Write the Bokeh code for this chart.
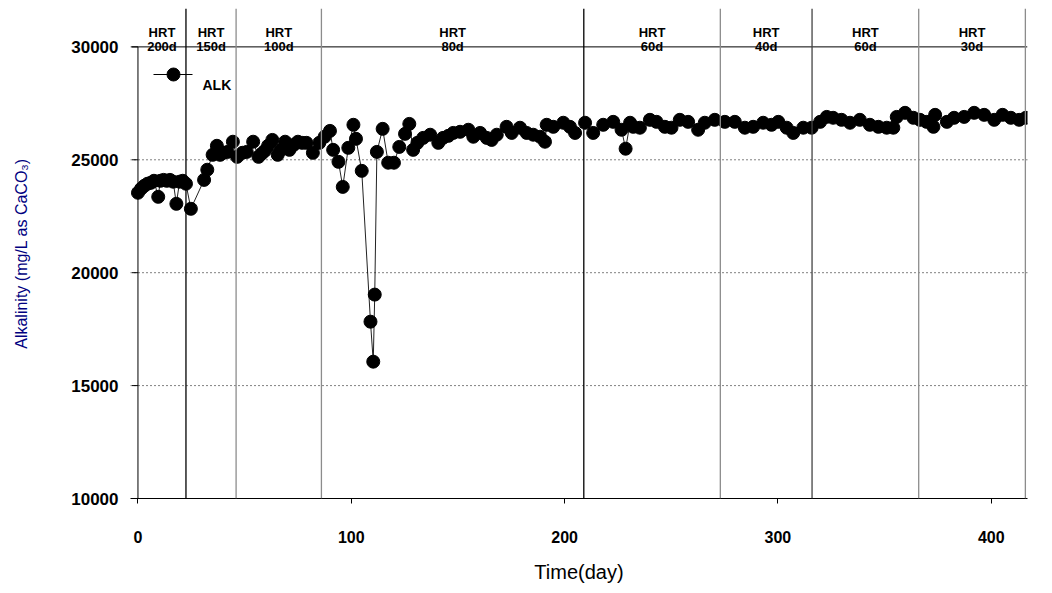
import math
from bokeh.plotting import figure
from bokeh.models import Range1d, FixedTicker, Span
from bokeh.core.properties import value
from bokeh.embed import file_html
from bokeh.resources import INLINE

# ---------------- data ----------------
day = [0, 1.5, 3, 4.5, 6, 7.5, 9.5, 10.5, 12, 13.5, 15, 16.5, 18, 19.5, 21, 22.5, 24.8,
       31, 32.5, 35, 37, 38.5, 40, 42, 44.5, 46.5, 49, 51, 54, 56.5, 58, 59.5, 61, 63,
       65.5, 67, 69, 71, 73, 75, 77, 79, 82, 85, 87.5, 90, 91.5, 94, 96, 98.6, 101,
       102.2, 104.9, 109, 110.3, 111, 112, 114.7, 117.3, 120, 122.5, 125.2, 127.2, 129,
       131, 133.7, 137, 140.8, 143, 145.5, 147.8, 151, 154.9, 157.2, 160.4, 163.5, 165.8,
       168.2, 172.8, 175.2, 179.1, 182.2, 185.3, 188.5, 190.8, 191.6, 194.7, 199.4,
       202.5, 204.9, 209.6, 213.4, 218.1, 222.8, 226.7, 228.6, 230.7, 232.2, 235.3, 240,
       243.1, 247, 250.1, 254, 257.9, 262.6, 265.7, 270.4, 275.1, 279.8, 284.5, 288.4,
       293.1, 297, 300.2, 304.1, 307.2, 311.9, 315.8, 319.8, 322.9, 325.9, 329.8, 333.8,
       338.4, 343.1, 347.1, 351, 354.1, 355.7, 359.6, 363.5, 366.6, 369.7, 372.9, 373.7,
       379.2, 382.6, 387.3, 392, 396.7, 401.4, 405.3, 409.2, 413.1, 416.2]
alk = [23540, 23720, 23850, 23940, 23980, 24070, 23360, 24070, 24110, 24070, 24110, 24030,
       23050, 24030, 24070, 23940, 22830,
       24110, 24560, 25220, 25620, 25220, 25310, 25350, 25800, 25130, 25310, 25350, 25800,
       25130, 25270, 25400, 25620, 25880, 25220, 25440, 25800, 25440, 25660, 25800, 25750,
       25750, 25310, 25750, 26020, 26280, 25440, 24910, 23800, 25530, 26550,
       25930, 24510, 17830, 16060, 19030, 25350, 26370, 24870, 24870, 25570, 26150, 26590,
       25440, 25750, 25970, 26110, 25750, 25970, 26060, 26190, 26240, 26330, 26020, 26190,
       25970, 25880, 26110, 26460, 26190, 26420, 26190, 26110, 26020, 25800, 26550, 26460,
       26640, 26460, 26190, 26640, 26190, 26550, 26680, 26330, 25490, 26640, 26460, 26420,
       26770, 26680, 26460, 26420, 26770, 26680, 26330, 26640, 26770, 26680, 26680, 26420,
       26460, 26640, 26550, 26680, 26420, 26190, 26420, 26420, 26680, 26900, 26860, 26770,
       26640, 26770, 26550, 26460, 26420, 26420, 26900, 27080, 26860, 26770, 26680, 26460,
       26990, 26680, 26860, 26900, 27080, 26990, 26770, 26990, 26860, 26770, 26860]

hrt_bounds = [22.5, 46, 86, 209, 273, 316, 366, 416]
hrt_colors = ["black", "#8c8c8c", "#8c8c8c", "black", "#8c8c8c", "#444444", "#8c8c8c", "#8c8c8c"]
hrt_names = ["200d", "150d", "100d", "80d", "60d", "40d", "60d", "30d"]
x_ticks = [0, 100, 200, 300, 400]
y_ticks = [10000, 15000, 20000, 25000, 30000]
grid_vals = [15000, 20000, 25000]
series_name = "ALK"
x_title = "Time(day)"
y_title = "Alkalinity (mg/L as CaCO\u2083)"

# ---------------- layout ----------------
W, H = 1052, 593
F_L, F_R, F_T, F_B = 130, 1027, 8, 498
X0, X1 = -3.5, 417.0
Y0, Y1 = 10000, 31700
ppx = (F_R - F_L) / (X1 - X0)
ppy = (F_B - F_T) / (Y1 - Y0)
ORIGIN_PX = F_L - X0 * ppx


def xd(px):
    return X0 + (px - F_L) / ppx


def yd(py):
    return Y1 - (py - F_T) / ppy


FONT = "Liberation Sans"

p = figure(width=W, height=H, output_backend="svg", toolbar_location=None,
           x_range=Range1d(X0, X1), y_range=Range1d(Y0, Y1),
           min_border_left=F_L, min_border_right=W - F_R,
           min_border_top=F_T, min_border_bottom=H - F_B)
p.outline_line_color = None
p.background_fill_color = "white"
p.border_fill_color = "white"
p.xgrid.grid_line_color = None
p.ygrid.grid_line_color = None

# x axis
ax = p.xaxis[0]
ax.ticker = FixedTicker(ticks=x_ticks)
ax.minor_tick_line_color = None
ax.major_tick_out = 5
ax.major_tick_in = 0
ax.axis_line_color = "black"
ax.major_tick_line_color = "black"
ax.major_label_text_font = FONT
ax.major_label_text_font_style = "bold"
ax.major_label_text_font_size = "16px"
ax.major_label_text_color = "black"
ax.major_label_standoff = 27
ax.axis_label = x_title
ax.axis_label_text_font = FONT
ax.axis_label_text_font_style = "normal"
ax.axis_label_text_font_size = "20px"
ax.axis_label_text_color = "black"
ax.axis_label_standoff = 15

# y axis: labels only (axis line and ticks drawn at x = 0 below)
ay = p.yaxis[0]
ay.ticker = FixedTicker(ticks=y_ticks)
ay.axis_line_color = None
ay.major_tick_line_color = None
ay.minor_tick_line_color = None
ay.major_label_text_font = FONT
ay.major_label_text_font_style = "bold"
ay.major_label_text_font_size = "17px"
ay.major_label_text_color = "black"
ay.major_label_standoff = 6
ay.axis_label = y_title
ay.axis_label_text_font = FONT
ay.axis_label_text_font_style = "normal"
ay.axis_label_text_font_size = "16px"
ay.axis_label_text_color = "#000080"
ay.axis_label_standoff = 38

# dotted horizontal grid
for g in grid_vals:
    p.add_layout(Span(location=g, dimension="width", line_color="black",
                      line_width=1, line_dash="1 3"))
# top solid line
p.add_layout(Span(location=y_ticks[-1], dimension="width", line_color="black", line_width=1))

# HRT boundary lines
for b, c in zip(hrt_bounds, hrt_colors):
    p.add_layout(Span(location=b, dimension="height", line_color=c, line_width=1.3))

# left axis line and ticks
p.segment(x0=[0], y0=[y_ticks[0]], x1=[0], y1=[y_ticks[-1]], line_color="black", line_width=1)
p.segment(x0=[xd(ORIGIN_PX - 6)] * len(y_ticks), y0=y_ticks, x1=[0] * len(y_ticks), y1=y_ticks,
          line_color="black", line_width=1)

# HRT labels
starts = [0] + hrt_bounds[:-1]
mids = [(a + b) / 2 for a, b in zip(starts, hrt_bounds)]
p.text(x=mids, y=[yd(32)] * len(mids), text=["HRT"] * len(mids),
       text_align="center", text_baseline="middle", text_font=value(FONT),
       text_font_style="bold", text_font_size="13px", text_color="black")
p.text(x=mids, y=[y_ticks[-1]] * len(mids), text=hrt_names,
       text_align="center", text_baseline="middle", text_font=value(FONT),
       text_font_style="bold", text_font_size="13px", text_color="black")

# data
p.line(day, alk, line_color="#222222", line_width=1)
p.scatter(day, alk, size=13, fill_color="black", line_color="black")

# legend (manual)
p.line([xd(153), xd(192)], [yd(74), yd(74)], line_color="black", line_width=1)
p.scatter([xd(173)], [yd(74)], size=13, fill_color="black", line_color="black")
p.text(x=[xd(202)], y=[yd(84)], text=[series_name], text_align="left", text_baseline="middle",
       text_font=value(FONT), text_font_style="bold", text_font_size="14px", text_color="black")

open("out.html", "w").write(file_html(p, INLINE))
